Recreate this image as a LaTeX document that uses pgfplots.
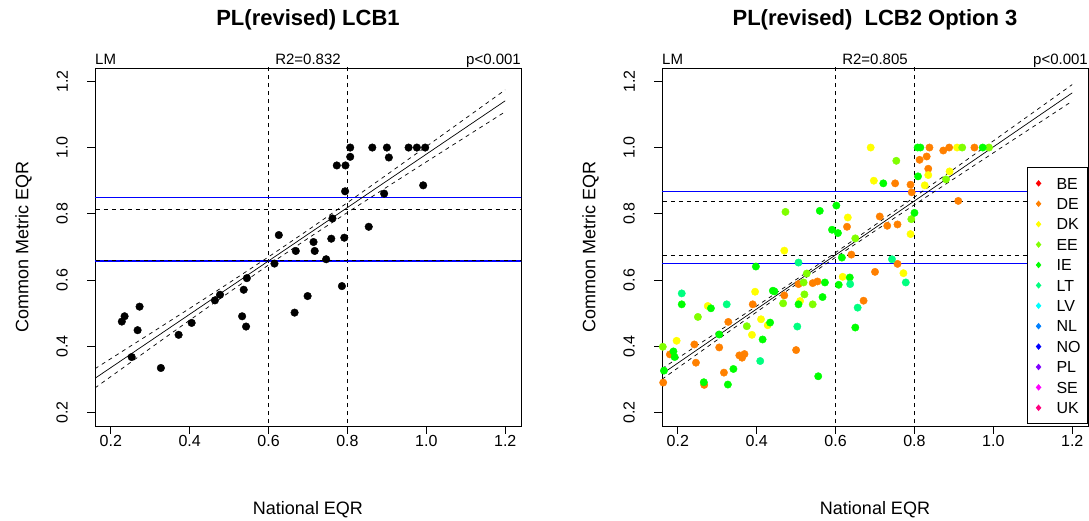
\documentclass[border=0pt]{standalone}
\usepackage{fontspec}
\setmainfont{Liberation Sans}
\usepackage{pgfplots}
\pgfplotsset{compat=1.18}
\newcommand{\fs}[1]{\fontsize{#1bp}{#1bp}\selectfont}
\definecolor{cBE}{RGB}{255,0,0}
\definecolor{cDE}{RGB}{255,128,0}
\definecolor{cDK}{RGB}{255,255,0}
\definecolor{cEE}{RGB}{128,255,0}
\definecolor{cIE}{RGB}{0,255,0}
\definecolor{cLT}{RGB}{0,255,128}
\definecolor{cLV}{RGB}{0,255,255}
\definecolor{cNL}{RGB}{0,128,255}
\definecolor{cNO}{RGB}{0,0,255}
\definecolor{cPL}{RGB}{128,0,255}
\definecolor{cSE}{RGB}{255,0,255}
\definecolor{cUK}{RGB}{255,0,128}
\definecolor{rblue}{RGB}{0,0,255}

\pgfplotstableread{
x y
0.228 0.475
0.235 0.491
0.253 0.368
0.268 0.449
0.273 0.520
0.327 0.335
0.372 0.435
0.405 0.471
0.464 0.539
0.477 0.556
0.533 0.491
0.537 0.571
0.543 0.460
0.545 0.606
0.615 0.650
0.626 0.736
0.666 0.502
0.669 0.688
0.699 0.552
0.714 0.715
0.717 0.688
0.746 0.663
0.759 0.725
0.762 0.786
0.773 0.946
0.786 0.582
0.792 0.728
0.795 0.946
0.794 0.868
0.807 1.000
0.807 0.972
0.854 0.761
0.863 1.000
0.893 0.861
0.900 1.000
0.905 0.970
0.955 1.000
0.976 1.000
0.992 0.886
0.997 1.000
}\lcbone

\pgfplotstableread{
x y
0.838 1.000
0.813 0.963
0.831 0.973
0.835 0.936
0.873 0.991
0.888 1.000
0.952 1.000
0.751 0.892
0.790 0.888
0.793 0.865
0.911 0.839
0.712 0.792
0.731 0.764
0.757 0.768
0.629 0.761
0.640 0.677
0.757 0.649
0.700 0.625
0.506 0.588
0.542 0.591
0.554 0.596
0.470 0.554
0.390 0.527
0.671 0.538
0.500 0.389
0.328 0.474
0.242 0.406
0.305 0.397
0.180 0.376
0.246 0.351
0.356 0.373
0.369 0.377
0.363 0.366
0.317 0.321
0.163 0.291
0.267 0.284
}\dDE

\pgfplotstableread{
x y
0.689 1.000
0.908 1.000
0.697 0.900
0.826 0.886
0.835 0.917
0.889 0.928
0.631 0.789
0.790 0.739
0.470 0.689
0.618 0.610
0.772 0.621
0.396 0.565
0.276 0.522
0.510 0.537
0.411 0.482
0.428 0.464
0.388 0.435
0.197 0.417
}\dDK

\pgfplotstableread{
x y
0.754 0.960
0.921 1.000
0.989 1.000
0.880 0.904
0.792 0.784
0.473 0.806
0.650 0.726
0.527 0.620
0.519 0.593
0.251 0.489
0.467 0.530
0.521 0.557
0.542 0.527
0.375 0.461
0.162 0.399
}\dEE

\pgfplotstableread{
x y
0.808 1.000
0.815 1.000
0.973 1.000
0.721 0.892
0.809 0.913
0.800 0.803
0.560 0.809
0.602 0.825
0.591 0.752
0.606 0.742
0.616 0.668
0.398 0.641
0.636 0.608
0.608 0.586
0.573 0.593
0.441 0.568
0.445 0.566
0.210 0.527
0.284 0.515
0.506 0.527
0.567 0.549
0.650 0.457
0.434 0.472
0.415 0.421
0.305 0.436
0.189 0.385
0.192 0.368
0.165 0.327
0.341 0.332
0.266 0.292
0.327 0.285
0.556 0.310
}\dIE

\pgfplotstableread{
x y
0.506 0.653
0.743 0.663
0.778 0.593
0.637 0.588
0.210 0.560
0.324 0.527
0.656 0.517
0.503 0.460
0.409 0.356
}\dLT

% fitted line and confidence band
\pgfplotstableread{
x fit up lo
0.16 0.3038 0.3328 0.2748
0.30 0.4165 0.4387 0.3943
0.40 0.4970 0.5148 0.4792
0.50 0.5775 0.5918 0.5632
0.60 0.6580 0.6702 0.6458
0.70 0.7385 0.7509 0.7261
0.80 0.8190 0.8339 0.8041
0.90 0.8995 0.9182 0.8808
1.00 0.9800 1.0031 0.9569
1.10 1.0605 1.0885 1.0325
1.20 1.1410 1.1740 1.1080
}\bandA

\pgfplotstableread{
x fit up lo
0.16 0.3170 0.3330 0.3010
0.30 0.4315 0.4431 0.4199
0.40 0.5130 0.5219 0.5041
0.50 0.5945 0.6017 0.5873
0.60 0.6760 0.6832 0.6688
0.70 0.7575 0.7664 0.7486
0.80 0.8390 0.8506 0.8274
0.90 0.9205 0.9352 0.9058
1.00 1.0020 1.0200 0.9840
1.10 1.0835 1.1050 1.0620
1.20 1.1650 1.1900 1.1400
}\bandB

\pgfplotsset{
  eqr/.style={
    scale only axis, width=426bp, height=358bp,
    xmin=0.16, xmax=1.24, ymin=0.16, ymax=1.24,
    xtick={0.2,0.4,0.6,0.8,1.0,1.2},
    ytick={0.2,0.4,0.6,0.8,1.0,1.2},
    tick align=outside, xtick pos=lower, ytick pos=left,
    major tick length=8bp,
    tick style={black, line width=0.9bp},
    axis line style={black, line width=0.9bp},
    xticklabel style={font=\fs{16}, inner sep=0pt, anchor=north, yshift=-1bp},
    yticklabel style={font=\fs{16}, rotate=90, anchor=south, inner sep=0pt, yshift=19bp},
    /pgf/number format/.cd, fixed, fixed zerofill, precision=1, assume math mode=true
  },
  vl/.style={draw=black, line width=0.9bp, dash pattern=on 4bp off 4bp},
}

\begin{document}
\begin{tikzpicture}[x=1bp,y=1bp]
\path[use as bounding box] (0,0) rectangle (1089,521);

% ---------- left panel ----------
\begin{axis}[eqr, at={(95bp,95bp)}, anchor=south west]
\addplot[only marks, mark=*, mark size=3.8bp, black] table[x=x,y=y] {\lcbone};
\addplot[vl] coordinates {(0.6,0) (0.6,1.4)};
\addplot[vl] coordinates {(0.8,0) (0.8,1.4)};
\addplot[draw=rblue, line width=1.2bp] coordinates {(0,0.850) (1.4,0.850)};
\addplot[draw=rblue, line width=1.2bp] coordinates {(0,0.658) (1.4,0.658)};
\addplot[vl] coordinates {(0,0.813) (1.4,0.813)};
\addplot[vl] coordinates {(0,0.658) (1.4,0.658)};
\addplot[black, line width=0.7bp] table[x=x,y=fit] {\bandA};
\addplot[black, line width=0.7bp, dash pattern=on 4bp off 4bp] table[x=x,y=up] {\bandA};
\addplot[black, line width=0.7bp, dash pattern=on 4bp off 4bp] table[x=x,y=lo] {\bandA};
\end{axis}

% ---------- right panel ----------
\begin{axis}[eqr, at={(662bp,95bp)}, anchor=south west,
  legend image code/.code={\path[draw=none] (-4bp,-4bp) rectangle (4bp,4bp);
     \fill[#1, draw=none] (0bp,3.3bp) -- (2.8bp,0bp) -- (0bp,-3.3bp) -- (-2.8bp,0bp) -- cycle;},
  legend style={at={(1,0)}, anchor=south east, yshift=2bp, draw=black, line width=0.9bp, fill=white,
    inner xsep=7bp, inner ysep=10bp, row sep=8.9bp, cells={anchor=west},
    nodes={inner sep=0pt, text height=11.5bp, text depth=0pt, font=\fs{16}},
    /tikz/every odd column/.append style={column sep=14bp}}]
\addplot[only marks, mark=*, mark size=3.7bp, cDE, forget plot] table[x=x,y=y] {\dDE};
\addplot[only marks, mark=*, mark size=3.7bp, cDK, forget plot] table[x=x,y=y] {\dDK};
\addplot[only marks, mark=*, mark size=3.7bp, cEE, forget plot] table[x=x,y=y] {\dEE};
\addplot[only marks, mark=*, mark size=3.7bp, cIE, forget plot] table[x=x,y=y] {\dIE};
\addplot[only marks, mark=*, mark size=3.7bp, cLT, forget plot] table[x=x,y=y] {\dLT};
\addplot[vl, forget plot] coordinates {(0.6,0) (0.6,1.4)};
\addplot[vl, forget plot] coordinates {(0.8,0) (0.8,1.4)};
\addplot[draw=rblue, line width=1.2bp, forget plot] coordinates {(0,0.867) (1.4,0.867)};
\addplot[draw=rblue, line width=1.2bp, forget plot] coordinates {(0,0.650) (1.4,0.650)};
\addplot[vl, forget plot] coordinates {(0,0.838) (1.4,0.838)};
\addplot[vl, forget plot] coordinates {(0,0.674) (1.4,0.674)};
\addplot[black, line width=0.7bp, forget plot] table[x=x,y=fit] {\bandB};
\addplot[black, line width=0.7bp, dash pattern=on 4bp off 4bp, forget plot] table[x=x,y=up] {\bandB};
\addplot[black, line width=0.7bp, dash pattern=on 4bp off 4bp, forget plot] table[x=x,y=lo] {\bandB};
\addlegendimage{cBE}\addlegendentry{BE}
\addlegendimage{cDE}\addlegendentry{DE}
\addlegendimage{cDK}\addlegendentry{DK}
\addlegendimage{cEE}\addlegendentry{EE}
\addlegendimage{cIE}\addlegendentry{IE}
\addlegendimage{cLT}\addlegendentry{LT}
\addlegendimage{cLV}\addlegendentry{LV}
\addlegendimage{cNL}\addlegendentry{NL}
\addlegendimage{cNO}\addlegendentry{NO}
\addlegendimage{cPL}\addlegendentry{PL}
\addlegendimage{cSE}\addlegendentry{SE}
\addlegendimage{cUK}\addlegendentry{UK}
\end{axis}

% ---------- texts ----------
\node[anchor=base, font=\bfseries\fs{22}] at (308,495) {PL(revised) LCB1};
\node[anchor=base, font=\bfseries\fs{22}] at (875,495) {PL(revised)\ \ LCB2 Option 3};
\node[anchor=base west, font=\fs{15}, inner sep=0pt] at (95,456) {LM};
\node[anchor=base, font=\fs{15}, inner sep=0pt] at (308,456) {R2=0.832};
\node[anchor=base east, font=\fs{15}, inner sep=0pt] at (521,456) {p<0.001};
\node[anchor=base west, font=\fs{15}, inner sep=0pt] at (662,456) {LM};
\node[anchor=base, font=\fs{15}, inner sep=0pt] at (875,456) {R2=0.805};
\node[anchor=base east, font=\fs{15}, inner sep=0pt] at (1088,456) {p<0.001};
\node[anchor=base, font=\fs{18}, inner sep=0pt] at (308,6.5) {National EQR};
\node[anchor=base, font=\fs{18}, inner sep=0pt] at (875,6.5) {National EQR};
\node[anchor=base, rotate=90, font=\fs{18}, inner sep=0pt] at (28.4,274) {Common Metric EQR};
\node[anchor=base, rotate=90, font=\fs{18}, inner sep=0pt] at (595.4,274) {Common Metric EQR};
\end{tikzpicture}
\end{document}
